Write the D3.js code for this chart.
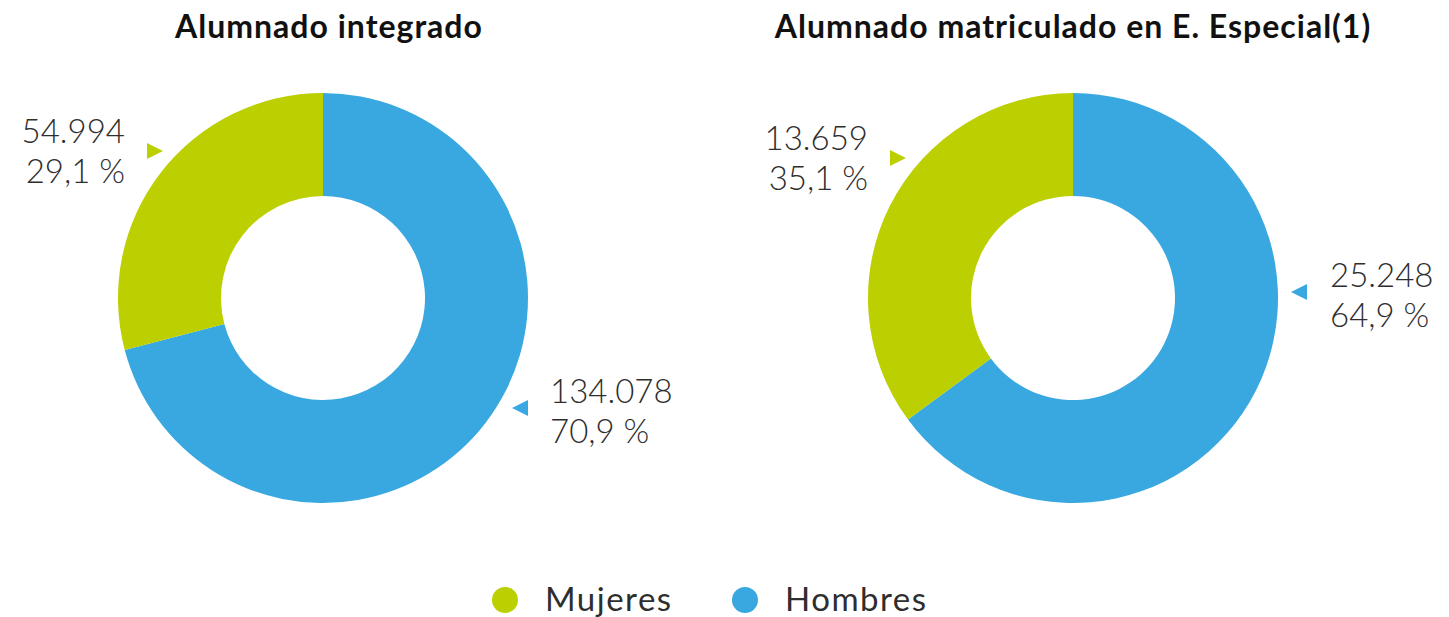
<!DOCTYPE html>
<html>
<head>
<meta charset="utf-8">
<script src="https://cdn.jsdelivr.net/npm/d3@7"></script>
<style>
  body { margin: 0; background: #fff; }
  text { font-family: Lato, "Open Sans", sans-serif; fill: #2e2e2e; }
</style>
</head>
<body>
<div id="chart-area"></div>
<script>
const titles = ["Alumnado integrado", "Alumnado matriculado en E. Especial(1)"];
const categories = ["Hombres", "Mujeres"];
const hombres = [134078, 25248];
const mujeres = [54994, 13659];

const colors = { Mujeres: "#bccf00", Hombres: "#39a8e0" };

const width = 1449, height = 617;
const outerR = 205, innerR = 102;
const centers = [{ x: 323, y: 298 }, { x: 1073, y: 298 }];

// label placement per donut (offsets from centre)
const labelPos = [
  { Mujeres: { tx: -198, ty: -155, mx: -168, my: -147 }, Hombres: { tx: 227, ty: 105, mx: 197, my: 110 } },
  { Mujeres: { tx: -205, ty: -148, mx: -175, my: -140 }, Hombres: { tx: 257, ty: -11, mx: 226, my: -6 } }
];

const svg = d3.select("#chart-area")
  .append("svg")
  .attr("width", width)
  .attr("height", height);

const fmtNum = d3.formatLocale({ decimal: ",", thousands: ".", grouping: [3], currency: ["", "€"] }).format(",d");
const fmtPct = v => d3.format(".1f")(v).replace(".", ",") + " %";

const pie = d3.pie().sort(null).value(d => d.value);
const arc = d3.arc().innerRadius(innerR).outerRadius(outerR);

titles.forEach((title, i) => {
  const data = categories.map(name => ({
    name,
    value: name === "Hombres" ? hombres[i] : mujeres[i]
  }));
  const total = d3.sum(data, d => d.value);
  const c = centers[i];

  svg.append("text")
    .attr("x", c.x + (i === 0 ? 6 : 0))
    .attr("y", 38)
    .attr("text-anchor", "middle")
    .attr("font-size", "32px")
    .attr("font-weight", "bold")
    .attr("letter-spacing", "1px")
    .style("fill", "#111")
    .text(title);

  const g = svg.append("g")
    .attr("transform", `translate(${c.x}, ${c.y})`);

  g.selectAll("path")
    .data(pie(data))
    .enter()
    .append("path")
    .attr("d", arc)
    .attr("fill", d => colors[d.data.name]);

  data.forEach(d => {
    const p = labelPos[i][d.name];
    const left = d.name === "Mujeres";
    const lbl = g.append("text")
      .attr("text-anchor", left ? "end" : "start")
      .attr("font-size", "33px")
      .attr("font-weight", 300);
    lbl.append("tspan").attr("x", p.tx).attr("y", p.ty).text(fmtNum(d.value));
    lbl.append("tspan").attr("x", p.tx).attr("y", p.ty + 40).text(fmtPct(d.value / total * 100));

    const s = 8;
    const pts = left
      ? [[p.mx - s, p.my - s], [p.mx + s, p.my], [p.mx - s, p.my + s]]
      : [[p.mx + s, p.my - s], [p.mx - s, p.my], [p.mx + s, p.my + s]];
    g.append("path")
      .attr("d", d3.line()(pts) + "Z")
      .attr("fill", colors[d.name]);
  });
});

// legend
const legend = svg.append("g").attr("transform", "translate(505, 600)");
["Mujeres", "Hombres"].forEach((name, i) => {
  const lg = legend.append("g").attr("transform", `translate(${i * 240}, 0)`);
  lg.append("circle").attr("r", 13).attr("fill", colors[name]);
  lg.append("text")
    .attr("x", 40)
    .attr("y", 11)
    .attr("font-size", "33px")
    .attr("letter-spacing", "1.5px")
    .text(name);
});
</script>
</body>
</html>
